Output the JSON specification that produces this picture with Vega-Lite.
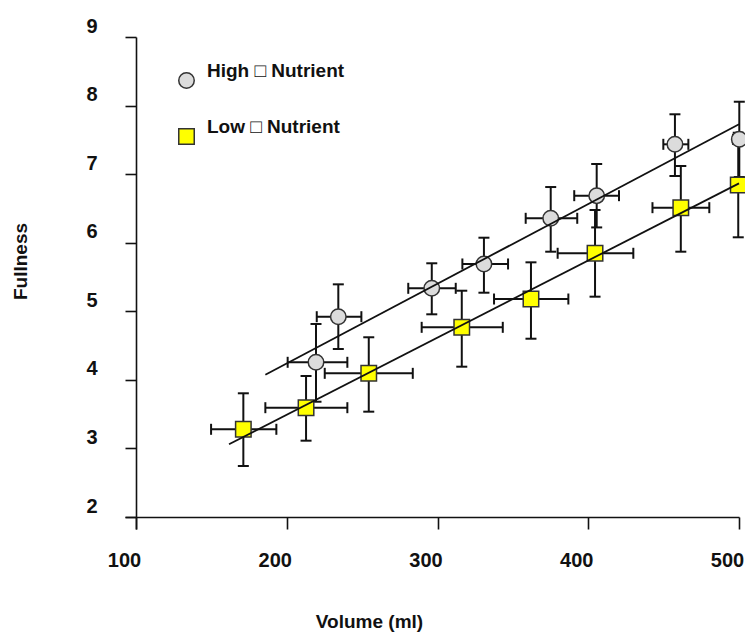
{
  "$schema": "https://vega.github.io/schema/vega-lite/v6.json",
  "width": 614,
  "height": 492,
  "autosize": {"type": "none"},
  "padding": {"left": 125, "top": 37, "right": 6, "bottom": 104},
  "background": "white",
  "config": {
    "view": {"stroke": null},
    "font": "Liberation Sans",
    "axis": {
      "grid": false,
      "domainColor": "#111",
      "domainWidth": 1.6,
      "tickColor": "#111",
      "tickWidth": 1.6,
      "labelFont": "Liberation Sans",
      "labelFontSize": 20,
      "labelFontWeight": "bold",
      "labelColor": "#111",
      "titleFont": "Liberation Sans",
      "titleFontSize": 19,
      "titleFontWeight": "bold",
      "titleColor": "#111",
      "labelOverlap": false,
      "labelBound": false,
      "labelFlush": false
    },
    "legend": {
      "orient": "none",
      "legendX": 52,
      "legendY": 34,
      "padding": 0,
      "labelFont": "Liberation Sans",
      "labelFontSize": 19,
      "labelFontWeight": "bold",
      "labelColor": "#111",
      "labelOffset": 11,
      "labelBaseline": "bottom",
      "symbolSize": 240,
      "symbolStrokeWidth": 1.5,
      "rowPadding": 25,
      "labelLimit": 300
    }
  },
  "datasets": {
    "pts": [
      {"group": "High \u25A1 Nutrient", "x": 219.4, "y": 4.256, "xlo": 200.6, "xhi": 240.2, "ylo": 3.681, "yhi": 4.815},
      {"group": "High \u25A1 Nutrient", "x": 234.2, "y": 4.921, "xlo": 219.9, "xhi": 249.5, "ylo": 4.45, "yhi": 5.393},
      {"group": "High \u25A1 Nutrient", "x": 296.2, "y": 5.335, "xlo": 280.6, "xhi": 312.1, "ylo": 4.956, "yhi": 5.7},
      {"group": "High \u25A1 Nutrient", "x": 330.8, "y": 5.69, "xlo": 316.5, "xhi": 346.8, "ylo": 5.271, "yhi": 6.073},
      {"group": "High \u25A1 Nutrient", "x": 375.1, "y": 6.356, "xlo": 358.5, "xhi": 392.7, "ylo": 5.869, "yhi": 6.812},
      {"group": "High \u25A1 Nutrient", "x": 405.6, "y": 6.686, "xlo": 390.7, "xhi": 420.4, "ylo": 6.223, "yhi": 7.148},
      {"group": "High \u25A1 Nutrient", "x": 457.5, "y": 7.435, "xlo": 449.8, "xhi": 466.4, "ylo": 6.973, "yhi": 7.873},
      {"group": "High \u25A1 Nutrient", "x": 500.2, "y": 7.508, "xlo": 496.0, "xhi": 504.0, "ylo": 6.958, "yhi": 8.056},
      {"group": "Low \u25A1 Nutrient", "x": 171.2, "y": 3.279, "xlo": 149.8, "xhi": 193.1, "ylo": 2.744, "yhi": 3.804},
      {"group": "Low \u25A1 Nutrient", "x": 212.8, "y": 3.594, "xlo": 185.8, "xhi": 240.2, "ylo": 3.113, "yhi": 4.056},
      {"group": "Low \u25A1 Nutrient", "x": 254.4, "y": 4.095, "xlo": 225.2, "xhi": 283.6, "ylo": 3.536, "yhi": 4.621},
      {"group": "Low \u25A1 Nutrient", "x": 316.1, "y": 4.766, "xlo": 289.5, "xhi": 343.3, "ylo": 4.192, "yhi": 5.3},
      {"group": "Low \u25A1 Nutrient", "x": 362.0, "y": 5.179, "xlo": 337.5, "xhi": 386.8, "ylo": 4.6, "yhi": 5.714},
      {"group": "Low \u25A1 Nutrient", "x": 404.5, "y": 5.846, "xlo": 379.7, "xhi": 429.9, "ylo": 5.213, "yhi": 6.477},
      {"group": "Low \u25A1 Nutrient", "x": 461.4, "y": 6.511, "xlo": 442.6, "xhi": 480.3, "ylo": 5.869, "yhi": 7.119},
      {"group": "Low \u25A1 Nutrient", "x": 499.5, "y": 6.842, "xlo": 495.5, "xhi": 503.5, "ylo": 6.079, "yhi": 7.604}
    ],
    "fit": [
      {"group": "High \u25A1 Nutrient", "x": 185.8, "y": 4.075},
      {"group": "High \u25A1 Nutrient", "x": 500.0, "y": 7.727},
      {"group": "Low \u25A1 Nutrient", "x": 161.7, "y": 3.06},
      {"group": "Low \u25A1 Nutrient", "x": 500.0, "y": 6.866}
    ]
  },
  "layer": [
    {
      "data": {"name": "pts"},
      "mark": {"type": "rule", "color": "#111", "strokeWidth": 2},
      "encoding": {
        "x": {"field": "x", "type": "quantitative", "title": "Volume (ml)", "scale": {"domain": [92.7, 500], "nice": false, "zero": false}},
        "y": {"field": "ylo", "type": "quantitative", "title": "Fullness", "scale": {"domain": [1.825, 9], "nice": false, "zero": false}},
        "y2": {"field": "yhi"}
      }
    },
    {
      "data": {"name": "pts"},
      "mark": {"type": "rule", "color": "#111", "strokeWidth": 2},
      "encoding": {
        "x": {"field": "xlo", "type": "quantitative", "title": "Volume (ml)", "scale": {"domain": [92.7, 500], "nice": false, "zero": false}},
        "x2": {"field": "xhi"},
        "y": {"field": "y", "type": "quantitative", "title": "Fullness", "scale": {"domain": [1.825, 9], "nice": false, "zero": false}}
      }
    },
    {
      "data": {"name": "pts"},
      "mark": {"type": "tick", "orient": "horizontal", "color": "#111", "size": 11, "thickness": 2, "opacity": 1},
      "encoding": {
        "x": {"field": "x", "type": "quantitative", "title": "Volume (ml)", "scale": {"domain": [92.7, 500], "nice": false, "zero": false}},
        "y": {"field": "ylo", "type": "quantitative", "title": "Fullness", "scale": {"domain": [1.825, 9], "nice": false, "zero": false}}
      }
    },
    {
      "data": {"name": "pts"},
      "mark": {"type": "tick", "orient": "horizontal", "color": "#111", "size": 11, "thickness": 2, "opacity": 1},
      "encoding": {
        "x": {"field": "x", "type": "quantitative", "title": "Volume (ml)", "scale": {"domain": [92.7, 500], "nice": false, "zero": false}},
        "y": {"field": "yhi", "type": "quantitative", "title": "Fullness", "scale": {"domain": [1.825, 9], "nice": false, "zero": false}}
      }
    },
    {
      "data": {"name": "pts"},
      "mark": {"type": "tick", "orient": "vertical", "color": "#111", "size": 11, "thickness": 2, "opacity": 1},
      "encoding": {
        "x": {"field": "xlo", "type": "quantitative", "title": "Volume (ml)", "scale": {"domain": [92.7, 500], "nice": false, "zero": false}},
        "y": {"field": "y", "type": "quantitative", "title": "Fullness", "scale": {"domain": [1.825, 9], "nice": false, "zero": false}}
      }
    },
    {
      "data": {"name": "pts"},
      "mark": {"type": "tick", "orient": "vertical", "color": "#111", "size": 11, "thickness": 2, "opacity": 1},
      "encoding": {
        "x": {"field": "xhi", "type": "quantitative", "title": "Volume (ml)", "scale": {"domain": [92.7, 500], "nice": false, "zero": false}},
        "y": {"field": "y", "type": "quantitative", "title": "Fullness", "scale": {"domain": [1.825, 9], "nice": false, "zero": false}}
      }
    },
    {
      "data": {"name": "pts"},
      "mark": {"type": "point", "filled": true, "opacity": 1, "size": 240, "strokeWidth": 1.5},
      "encoding": {
        "x": {
          "field": "x", "type": "quantitative", "title": "Volume (ml)",
          "scale": {"domain": [92.7, 500], "nice": false, "zero": false},
          "axis": {"values": [100, 200, 300, 400, 500], "format": "d", "offset": -12, "tickSize": 12, "labelPadding": 21, "labelOffset": -12, "titleX": 244, "titleY": 110, "titleAnchor": null, "titleAlign": "center", "titleBaseline": "alphabetic"}
        },
        "y": {
          "field": "y", "type": "quantitative", "title": "Fullness",
          "scale": {"domain": [1.825, 9], "nice": false, "zero": false},
          "axis": {"values": [2, 3, 4, 5, 6, 7, 8, 9], "format": "d", "offset": -11, "tickSize": 11, "labelPadding": 28, "labelOffset": -11, "titleX": -110, "titleY": 224, "titleAngle": -90, "titleAlign": "center", "titleBaseline": "alphabetic"}
        },
        "shape": {"field": "group", "type": "nominal", "title": null, "scale": {"domain": ["High \u25A1 Nutrient", "Low \u25A1 Nutrient"], "range": ["circle", "square"]}},
        "fill": {"field": "group", "type": "nominal", "title": null, "scale": {"domain": ["High \u25A1 Nutrient", "Low \u25A1 Nutrient"], "range": ["#dcdcdc", "#ffff00"]}},
        "stroke": {"field": "group", "type": "nominal", "title": null, "scale": {"domain": ["High \u25A1 Nutrient", "Low \u25A1 Nutrient"], "range": ["#333333", "#333333"]}}
      }
    },
    {
      "data": {"name": "fit"},
      "mark": {"type": "line", "color": "#111", "strokeWidth": 1.8},
      "encoding": {
        "x": {"field": "x", "type": "quantitative", "title": "Volume (ml)", "scale": {"domain": [92.7, 500], "nice": false, "zero": false}},
        "y": {"field": "y", "type": "quantitative", "title": "Fullness", "scale": {"domain": [1.825, 9], "nice": false, "zero": false}},
        "detail": {"field": "group", "type": "nominal"}
      }
    }
  ]
}
